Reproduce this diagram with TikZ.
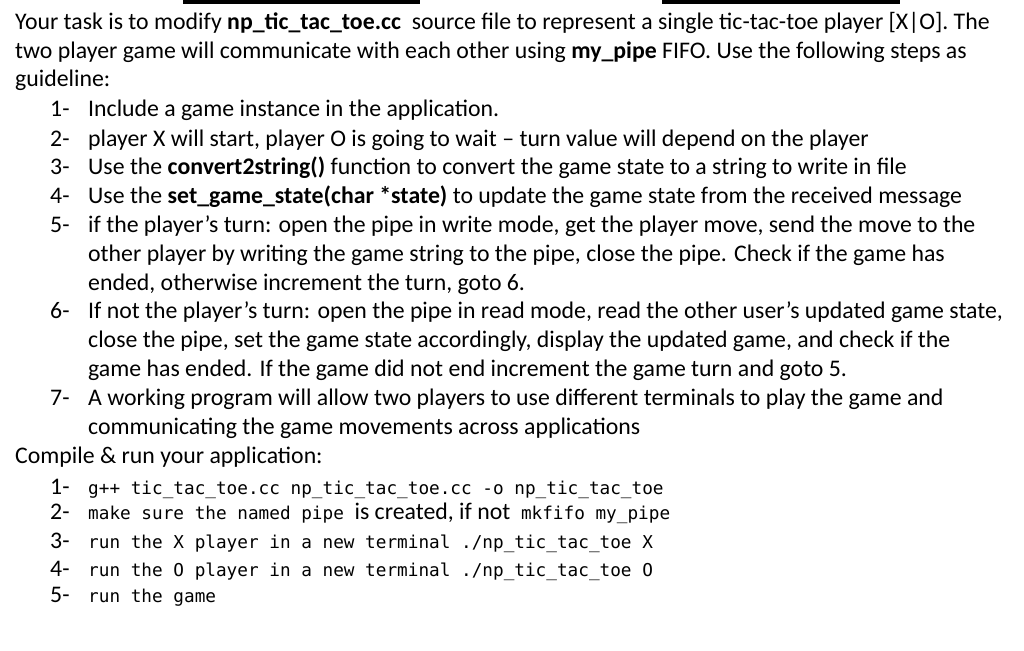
\documentclass[tikz,border=0pt]{standalone}
\usepackage{fontspec}
\setmainfont{Carlito}
\setmonofont{DejaVu Sans Mono}
\begin{document}
\begin{tikzpicture}[x=1pt,y=-1pt,
  t/.style={anchor=base west,inner sep=0pt,font=\fontsize{23.8}{26}\selectfont},
  m/.style={anchor=base west,inner sep=0pt,font=\fontsize{17.7}{24}\ttfamily}]
\useasboundingbox (0,0) rectangle (1024,650);
\fill (183,0) rectangle (420,4);
\fill (662,0) rectangle (900,4);
\node[t] (l1) at (15,30) {Your task is to modify \textbf{np\_tic\_tac\_toe.cc}\ \ source file to represent a single tic-tac-toe player [X|O]. The};
\node[t] (l2) at (15,59) {two player game will communicate with each other using \textbf{my\_pipe} FIFO. Use the following steps as};
\node[t] (l3) at (15,87) {guideline:};
\foreach \n/\y in {1/117,2/146,3/174,4/203,5/232,6/318,7/405}{\node[t] (n\n) at (50,\y) {\n-};}
\node[t] (a1) at (88,117) {Include a game instance in the application.};
\node[t] (a2) at (88,146) {player X will start, player O is going to wait -- turn value will depend on the player};
\node[t] (a3) at (88,174) {Use the \textbf{convert2string()} function to convert the game state to a string to write in file};
\node[t] (a4) at (88,203) {Use the \textbf{set\_game\_state(char *state)} to update the game state from the received message};
\node[t] (a5) at (88,232) {if the player’s turn: open the pipe in write mode, get the player move, send the move to the};
\node[t] (a5b) at (88,261) {other player by writing the game string to the pipe, close the pipe. Check if the game has};
\node[t] (a5c) at (88,290) {ended, otherwise increment the turn, goto 6.};
\node[t] (a6) at (88,318) {If not the player’s turn: open the pipe in read mode, read the other user’s updated game state,};
\node[t] (a6b) at (88,347) {close the pipe, set the game state accordingly, display the updated game, and check if the};
\node[t] (a6c) at (88,376) {game has ended. If the game did not end increment the game turn and goto 5.};
\node[t] (a7) at (88,405) {A working program will allow two players to use different terminals to play the game and};
\node[t] (a7b) at (88,434) {communicating the game movements across applications};
\node[t] (c) at (15,463) {Compile \& run your application:};
\foreach \n/\y in {1/494,2/519,3/548,4/576,5/602}{\node[t] (k\n) at (50,\y) {\n-};}
\node[m] (b1) at (88,494) {g++ tic\_tac\_toe.cc np\_tic\_tac\_toe.cc -o np\_tic\_tac\_toe};
\node[m] (b2) at (88,519) {make sure the named pipe {\rmfamily\fontsize{23.8}{26}\selectfont is created, if not} mkfifo my\_pipe};
\node[m] (b3) at (88,548) {run the X player in a new terminal ./np\_tic\_tac\_toe X};
\node[m] (b4) at (88,576) {run the O player in a new terminal ./np\_tic\_tac\_toe O};
\node[m] (b5) at (88,602) {run the game};
\end{tikzpicture}
\end{document}
